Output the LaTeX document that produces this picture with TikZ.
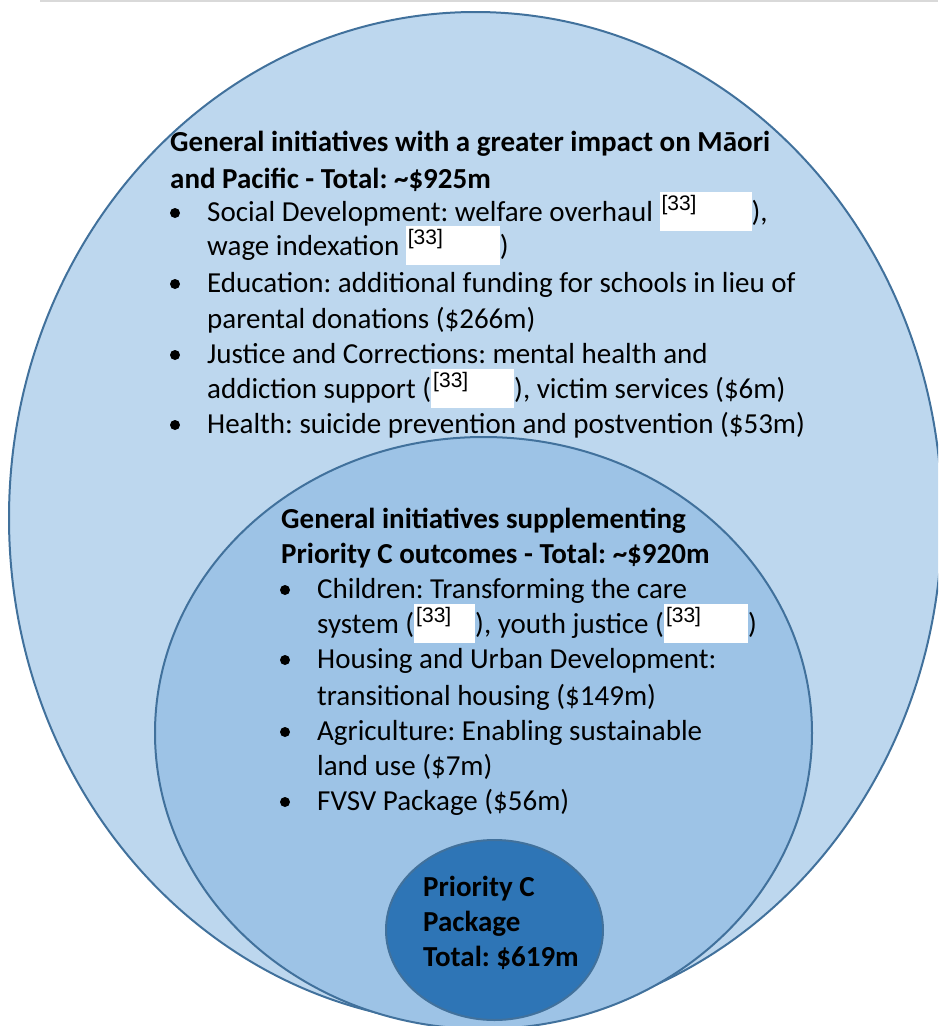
\documentclass[tikz,border=0pt]{standalone}
\usepackage{fontspec}
\setmainfont{Carlito}
\newfontfamily\arialfont{Liberation Sans}
\setlength{\fboxsep}{0pt}
\frenchspacing

\definecolor{outerblue}{HTML}{BDD7EE}
\definecolor{midblue}{HTML}{9DC3E6}
\definecolor{coreblue}{HTML}{2E75B6}
\definecolor{rimblue}{HTML}{41719C}

\newcommand{\redact}[1]{\raisebox{-10pt}{\colorbox{white}{\rule{0pt}{39pt}\makebox[#1][l]{\hspace{2pt}\raisebox{21pt}{\arialfont\fontsize{21pt}{21pt}\selectfont[33]}}}}}

\begin{document}
\begin{tikzpicture}[x=1pt,y=-1pt,
    rim/.style={draw=rimblue, line width=2pt},
    txt/.style={anchor=base west, inner sep=0pt, font=\fontsize{29pt}{35pt}\selectfont},
    hd/.style={txt, font=\fontsize{29pt}{35pt}\selectfont\bfseries},
    dot/.style={circle, fill=black, inner sep=0pt, minimum size=10pt}]
    \useasboundingbox (0,0) rectangle (938,1026);
    \clip (0,0) rectangle (938,1026);

    \draw[black!15, line width=1.5pt](40,1)--(938,1);

    \draw[rim, fill=outerblue](475.5,518) ellipse [x radius=466.5pt, y radius=506pt];
    \draw[rim, fill=midblue](483.5,733) ellipse [x radius=328.5pt, y radius=296pt];
    \draw[rim, fill=coreblue](494.5,930) ellipse [x radius=108.5pt, y radius=90pt];

    \node[hd] (gen1) at (170,151) {General initiatives with a greater impact on Māori};
    \node[hd] (gen2) at (170,188) {and Pacific - Total: \textasciitilde\$925m};
    \node[dot] (g1) at (175,213) {};
    \node[txt] (soc1) at (207,221) {Social Development: welfare overhaul \redact{92pt}),};
    \node[txt] (soc2) at (207,255) {wage indexation \redact{94pt})};
    \node[dot] (g2) at (175,284) {};
    \node[txt] (edu1) at (207,292) {Education: additional funding for schools in lieu of};
    \node[txt] (edu2) at (207,328) {parental donations (\$266m)};
    \node[dot] (g3) at (175,355) {};
    \node[txt] (jus1) at (207,363) {Justice and Corrections: mental health and};
    \node[txt] (jus2) at (207,398) {addiction support (\redact{83pt}), victim services (\$6m)};
    \node[dot] (g4) at (175,425) {};
    \node[txt] (hea1) at (207,433) {Health: suicide prevention and postvention (\$53m)};

    \node[hd] (sup1) at (281,528) {General initiatives supplementing};
    \node[hd] (sup2) at (281,563) {Priority C outcomes - Total: \textasciitilde\$920m};
    \node[dot] (s1) at (285,590) {};
    \node[txt] (chi1) at (317,598) {Children: Transforming the care};
    \node[txt] (chi2) at (317,633) {system (\redact{61pt}), youth justice (\redact{84pt})};
    \node[dot] (s2) at (285,660) {};
    \node[txt] (hou1) at (317,668) {Housing and Urban Development:};
    \node[txt] (hou2) at (317,705) {transitional housing (\$149m)};
    \node[dot] (s3) at (285,732) {};
    \node[txt] (agr1) at (317,740) {Agriculture: Enabling sustainable};
    \node[txt] (agr2) at (317,775) {land use (\$7m)};
    \node[dot] (s4) at (285,802) {};
    \node[txt] (fvs1) at (317,810) {FVSV Package (\$56m)};

    \node[hd] (pri1) at (423,896) {Priority C};
    \node[hd] (pri2) at (423,931) {Package};
    \node[hd] (pri3) at (423,966) {Total: \$619m};
\end{tikzpicture}
\end{document}
